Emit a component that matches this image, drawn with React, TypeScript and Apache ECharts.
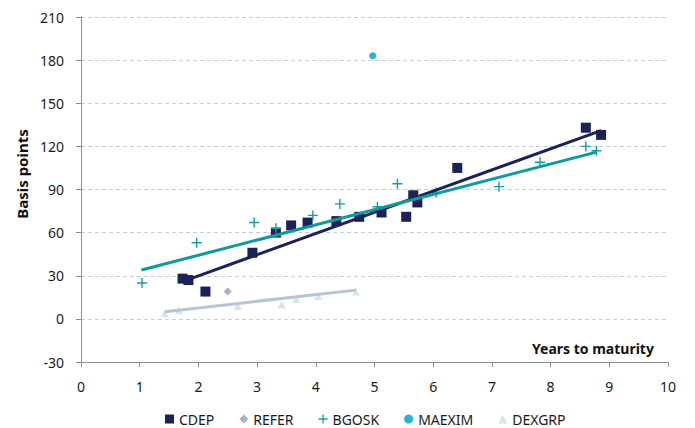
import React, { useEffect, useRef } from "react";
import * as echarts from "echarts";

const cdep: number[][] = [
  [1.73, 28], [1.83, 27], [2.12, 19], [2.92, 46], [3.32, 60], [3.58, 65], [3.86, 67],
  [4.35, 68], [4.74, 71], [5.12, 74], [5.54, 71], [5.66, 86], [5.73, 81], [6.41, 105],
  [8.6, 133], [8.86, 128],
];
const refer: number[][] = [[2.5, 19]];
const bgosk: number[][] = [
  [1.04, 25], [1.97, 53], [2.95, 67], [3.32, 63], [3.95, 72], [4.41, 80], [5.05, 78],
  [5.39, 94], [6.05, 88], [7.12, 92], [7.82, 109], [8.6, 120], [8.78, 117],
];
const maexim: number[][] = [[4.97, 183]];
const dexgrp: number[][] = [
  [1.43, 4], [1.67, 6], [2.67, 9], [3.42, 10], [3.67, 14], [4.04, 16], [4.68, 19],
];
const cdepTrend: number[][] = [[1.8, 27], [8.86, 131]];
const bgoskTrend: number[][] = [[1.03, 34], [8.78, 116]];
const referTrend: number[][] = [[1.43, 5], [4.68, 20]];

const CROSS = "path://M4.3,0H5.7V4.3H10V5.7H5.7V10H4.3V5.7H0V4.3H4.3Z";
const FONT = "Noto Sans";

export default function App() {
  const ref = useRef<HTMLDivElement>(null);
  useEffect(() => {
    if (!ref.current) return;
    const chart = echarts.init(ref.current, null, { renderer: "svg" });
    chart.setOption({
      animation: false,
      textStyle: { fontFamily: FONT },
      grid: { left: 81, right: 27, top: 17, bottom: 66, containLabel: false },
      xAxis: {
        type: "value",
        min: 0,
        max: 10,
        interval: 1,
        axisLine: { onZero: false, lineStyle: { color: "#8c8c8c", width: 1 } },
        axisTick: { show: true, length: 5, lineStyle: { color: "#8c8c8c" } },
        axisLabel: { color: "#1a1a1a", fontSize: 14, fontFamily: FONT, margin: 17 },
        splitLine: { show: false },
      },
      yAxis: {
        type: "value",
        min: -30,
        max: 210,
        interval: 30,
        axisLine: { show: true, lineStyle: { color: "#8c8c8c", width: 1 } },
        axisTick: { show: true, length: 5, lineStyle: { color: "#8c8c8c" } },
        axisLabel: { color: "#1a1a1a", fontSize: 14, fontFamily: FONT, margin: 17 },
        splitLine: { show: true, lineStyle: { color: "#c3cde0", type: [4, 3], width: 1 } },
      },
      legend: {
        data: [
          { name: "CDEP", icon: "rect" },
          { name: "REFER", icon: "diamond" },
          { name: "BGOSK", icon: CROSS },
          { name: "MAEXIM", icon: "circle" },
          { name: "DEXGRP", icon: "triangle" },
        ],
        left: 160,
        top: 407,
        itemGap: 25,
        itemWidth: 9,
        itemHeight: 9,
        textStyle: { color: "#1a1a1a", fontSize: 14, fontFamily: FONT },
      },
      graphic: [
        {
          type: "text",
          x: 22,
          y: 174,
          rotation: Math.PI / 2,
          style: {
            text: "Basis points",
            fill: "#111",
            font: "bold 15px Noto Sans",
            align: "center",
            verticalAlign: "middle",
          },
        },
        {
          type: "text",
          x: 532,
          y: 348,
          style: {
            text: "Years to maturity",
            fill: "#111",
            font: "bold 14px Noto Sans",
            align: "left",
            verticalAlign: "middle",
          },
        },
      ],
      series: [
        {
          name: "CDEP", type: "scatter", data: cdep, symbol: "rect", symbolSize: 10,
          itemStyle: { color: "#1b2159", opacity: 1 }, z: 2,
        },
        {
          name: "REFER", type: "scatter", data: refer, symbol: "diamond", symbolSize: 8,
          itemStyle: { color: "#aab3c5", opacity: 1 }, z: 2,
        },
        {
          name: "BGOSK", type: "scatter", data: bgosk, symbol: CROSS, symbolSize: 10,
          itemStyle: { color: "#139f9f", opacity: 1 }, z: 2,
        },
        {
          name: "MAEXIM", type: "scatter", data: maexim, symbol: "circle", symbolSize: 7,
          itemStyle: { color: "#25b5d5", opacity: 1 }, z: 2,
        },
        {
          name: "DEXGRP", type: "scatter", data: dexgrp, symbol: "triangle", symbolSize: 8,
          itemStyle: { color: "#d3e8e3", opacity: 1 }, z: 2,
        },
        {
          name: "CDEP trend", type: "line", data: cdepTrend, symbol: "none",
          lineStyle: { color: "#1b2159", width: 3 }, z: 3,
        },
        {
          name: "BGOSK trend", type: "line", data: bgoskTrend, symbol: "none",
          lineStyle: { color: "#109a9a", width: 3 }, z: 3,
        },
        {
          name: "REFER trend", type: "line", data: referTrend, symbol: "none",
          lineStyle: { color: "#b8c3d4", width: 3 }, z: 3,
        },
      ],
    });
    return () => chart.dispose();
  }, []);
  return <div ref={ref} style={{ width: 695, height: 428, position: "absolute", left: 0, top: 0 }} />;
}
